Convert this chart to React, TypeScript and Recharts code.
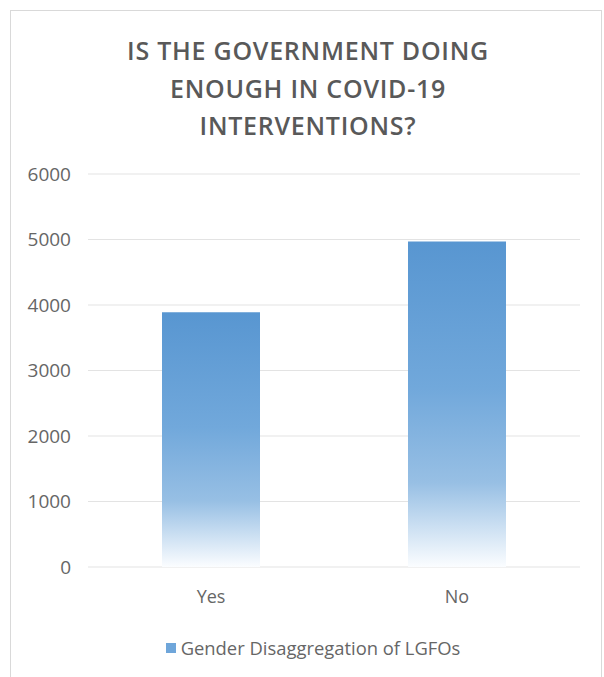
import { BarChart, Bar, XAxis, YAxis, CartesianGrid, Legend } from "recharts";

const categories = ["Yes", "No"];
const responses = [3890, 4970];
const yTicks = [0, 1000, 2000, 3000, 4000, 5000, 6000];
const seriesName = "Gender Disaggregation of LGFOs";
const titleLines = ["IS THE GOVERNMENT DOING", "ENOUGH IN COVID-19", "INTERVENTIONS?"];

const data = categories.map((c, i) => ({ name: c, value: responses[i] }));

const FONT = "'Open Sans', 'DejaVu Sans', sans-serif";
const TEXT = "#666666";

function LegendRow() {
  return (
    <div
      style={{
        display: "flex",
        alignItems: "center",
        justifyContent: "center",
        fontFamily: FONT,
        fontSize: 18.4,
        color: TEXT,
        paddingLeft: 22,
      }}
    >
      <span
        style={{
          display: "inline-block",
          width: 10,
          height: 10,
          background: "#6fa6da",
          marginRight: 5,
        }}
      />
      {seriesName}
    </div>
  );
}

export default function App() {
  return (
    <div
      style={{
        position: "fixed",
        left: 0,
        top: 0,
        width: 604,
        height: 677,
        background: "#ffffff",
        overflow: "hidden",
      }}
    >
      <div
        style={{
          position: "absolute",
          left: 10,
          top: 10,
          width: 592,
          height: 700,
          border: "1px solid #d9d9d9",
          boxSizing: "border-box",
        }}
      />
      <div
        style={{
          position: "absolute",
          left: 6,
          top: 32,
          width: 604,
          textAlign: "center",
          fontFamily: FONT,
          fontWeight: 600,
          fontSize: 25,
          letterSpacing: 0.75,
          lineHeight: "37.7px",
          color: "#595959",
        }}
      >
        {titleLines.map((l) => (
          <div key={l}>{l}</div>
        ))}
      </div>
      <div style={{ position: "absolute", left: 0, top: 0 }}>
        <BarChart
          width={604}
          height={677}
          data={data}
          margin={{ top: 174, right: 24, bottom: 80, left: 0 }}
          barSize={98}
        >
          <defs>
            <linearGradient id="barFade" x1="0" y1="0" x2="0" y2="1">
              <stop offset="0%" stopColor="#5896d1" />
              <stop offset="45%" stopColor="#71a8db" />
              <stop offset="74%" stopColor="#97bfe4" />
              <stop offset="100%" stopColor="#fbfdff" />
            </linearGradient>
          </defs>
          <CartesianGrid vertical={false} stroke="#e3e3e3" strokeWidth={1} />
          <XAxis
            dataKey="name"
            axisLine={false}
            tickLine={false}
            tickMargin={17}
            height={30}
            tick={{ fontSize: 18, fill: TEXT, fontFamily: FONT }}
          />
          <YAxis
            width={88}
            domain={[0, 6000]}
            ticks={yTicks}
            axisLine={false}
            tickLine={false}
            tickMargin={11}
            tick={{ fontSize: 19, fill: TEXT, fontFamily: FONT }}
          />
          <Legend
            layout="horizontal"
            verticalAlign="middle"
            align="center"
            content={() => <LegendRow />}
            wrapperStyle={{ top: 635, left: 0, width: 604 }}
          />
          <Bar
            dataKey="value"
            name={seriesName}
            fill="url(#barFade)"
            isAnimationActive={false}
          />
        </BarChart>
      </div>
    </div>
  );
}
